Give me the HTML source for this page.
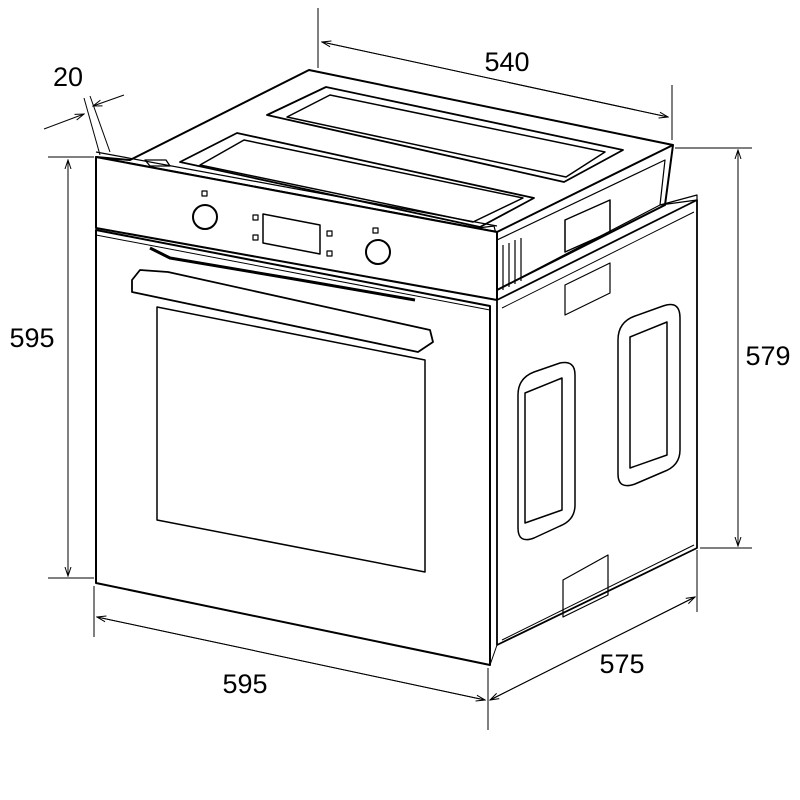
<!DOCTYPE html>
<html><head><meta charset="utf-8"><style>body{margin:0;background:#fff}svg{display:block}</style></head><body>
<svg width="800" height="800" viewBox="0 0 800 800" xmlns="http://www.w3.org/2000/svg" font-family="Liberation Sans, sans-serif">
<defs><marker id="a" markerWidth="10" markerHeight="8" refX="9" refY="4" orient="auto"><path d="M0,1 L9,4 L0,7" fill="none" stroke="#000" stroke-width="1"/></marker></defs>
<g fill="none" stroke="#000" stroke-width="1">
<line x1="318" y1="8" x2="318" y2="68"/><line x1="672" y1="85" x2="672" y2="140"/>
<line x1="322" y1="42" x2="668" y2="117" marker-end="url(#a)"/><line x1="668" y1="117" x2="322" y2="42" marker-end="url(#a)"/>
<line x1="675" y1="148" x2="752" y2="148"/><line x1="700" y1="548" x2="752" y2="548"/>
<line x1="738" y1="150" x2="738" y2="546" marker-end="url(#a)"/><line x1="738" y1="546" x2="738" y2="150" marker-end="url(#a)"/>
<line x1="48" y1="157" x2="94" y2="157"/><line x1="48" y1="578" x2="94" y2="578"/>
<line x1="68" y1="160" x2="68" y2="576" marker-end="url(#a)"/><line x1="68" y1="576" x2="68" y2="160" marker-end="url(#a)"/>
<line x1="94" y1="586" x2="94" y2="637"/><line x1="488" y1="668" x2="488" y2="730"/>
<line x1="97" y1="617" x2="485" y2="700" marker-end="url(#a)"/><line x1="485" y1="700" x2="97" y2="617" marker-end="url(#a)"/>
<line x1="697" y1="550" x2="697" y2="612"/>
<line x1="490" y1="700" x2="695" y2="597" marker-end="url(#a)"/><line x1="695" y1="597" x2="490" y2="700" marker-end="url(#a)"/>
<line x1="84" y1="98" x2="100" y2="155"/><line x1="90" y1="96" x2="110" y2="152"/>
<line x1="44" y1="129" x2="84" y2="114" marker-end="url(#a)"/><line x1="124" y1="95" x2="93" y2="106" marker-end="url(#a)"/>
</g>
<g fill="none" stroke="#000" stroke-width="2" stroke-linejoin="round">
<!-- top -->
<polygon points="96,157 130,160 309,70 673,145 665,205 497,290 497,232" fill="#fff"/>
<line x1="497" y1="232" x2="673" y2="145"/>
<polygon points="145,160 166,160 170,166 150,166" stroke-width="1.3"/>
<polygon points="180,162 237,133 534,198 480,227" stroke-width="1.8"/>
<polygon points="200,165 244,140 523,198 473,222" stroke-width="1.5"/>
<polygon points="267,115 326,87 623,150 564,182" stroke-width="1.8"/>
<polygon points="287,117 330,95 605,152 566,177" stroke-width="1.5"/>
<polygon points="478,228 494,226 496,234 480,235" stroke-width="1.2"/>
<!-- control strip -->
<polygon points="96,157 497,232 497,300 96,228" fill="#fff"/>
<line x1="96" y1="152" x2="497" y2="226" stroke-width="1.2"/>
<polygon points="497,240 665,160 660,205 497,290" stroke-width="1.2"/>
<polygon points="565,220 610,200 610,232 565,252" stroke-width="1.5"/>
<g stroke-width="1.2"><line x1="503" y1="245" x2="503" y2="290"/><line x1="509" y1="243" x2="509" y2="287"/><line x1="515" y1="240" x2="515" y2="284"/><line x1="521" y1="238" x2="521" y2="281"/></g>
<circle cx="205" cy="217" r="12"/><circle cx="378" cy="252" r="12"/>
<polygon points="263,214 320,225 320,254 263,243" stroke-width="1.5"/>
<g stroke-width="1.2"><rect x="202" y="191" width="5" height="5"/><rect x="373" y="228" width="5" height="5"/>
<rect x="253" y="215" width="5" height="5"/><rect x="253" y="235" width="5" height="5"/><rect x="327" y="231" width="5" height="5"/><rect x="327" y="251" width="5" height="5"/></g>
<!-- door -->
<polygon points="96,230 490,306 490,665 96,583" fill="#fff"/>
<line x1="96" y1="235" x2="490" y2="310" stroke-width="1"/>
<polyline points="150,248 170,258 300,280 415,300" stroke-width="3"/>
<polygon points="157,307 425,360 425,572 157,520" stroke-width="1.5"/>
<path d="M132,280 L140,270 L168,272 L430,330 L433,342 L418,352 L132,292 Z" stroke-width="1.8"/>
<!-- side -->
<polygon points="497,300 697,200 697,548 497,645" fill="#fff" stroke-width="1.8"/>
<polygon points="660,205 697,195 697,200" stroke-width="1.2"/>
<line x1="502" y1="308" x2="694" y2="212" stroke-width="1"/>
<line x1="502" y1="640" x2="694" y2="545" stroke-width="1"/>
<line x1="490" y1="665" x2="497" y2="645" stroke-width="1"/>
<polygon points="565,285 610,263 610,293 565,315" stroke-width="1.2"/>
<polygon points="563,580 608,555 608,595 563,617" stroke-width="1.2"/>
<path d="M518,395 Q518,378 534,372 L560,363 Q575,360 575,375 L575,505 Q575,520 560,526 L534,538 Q518,544 518,528 Z" stroke-width="1.5"/>
<polygon points="525,393 562,378 562,510 525,523" stroke-width="1.5"/>
<path d="M618,340 Q618,322 635,316 L663,306 Q680,300 680,318 L680,450 Q680,466 663,472 L635,484 Q618,490 618,474 Z" stroke-width="1.5"/>
<polygon points="630,337 667,322 667,455 630,468" stroke-width="1.5"/>
</g>
<g font-size="27" fill="#000">
<text x="507" y="71" text-anchor="middle">540</text>
<text x="768" y="365" text-anchor="middle">579</text>
<text x="32" y="347" text-anchor="middle">595</text>
<text x="245" y="693" text-anchor="middle">595</text>
<text x="622" y="673" text-anchor="middle">575</text>
<text x="68" y="86" text-anchor="middle">20</text>
</g>
</svg>
</body></html>
